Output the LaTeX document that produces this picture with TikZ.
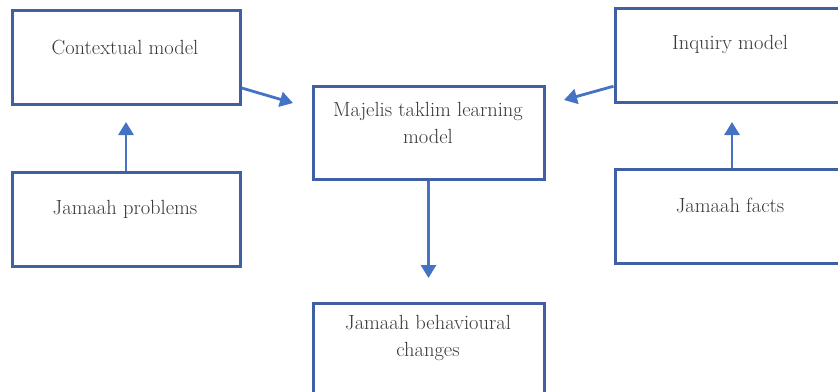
\documentclass[tikz,border=0pt]{standalone}
\usetikzlibrary{arrows.meta}
\definecolor{boxc}{HTML}{3F60A3}
\definecolor{arrc}{HTML}{4472C4}
\definecolor{txtc}{HTML}{383838}
\begin{document}
\begin{tikzpicture}[x=1pt,y=1pt,
  box/.style={draw=boxc, line width=3pt, fill=white, rectangle, inner sep=0pt},
  lbl/.style={text=txtc, font=\fontsize{20.5}{27}\selectfont, align=center, inner sep=0pt},
  arr/.style={draw=arrc, line width=2.8pt, -{Triangle[length=13pt,width=15pt]}}]
\useasboundingbox (0,0) rectangle (838,-391);
\clip (0,0) rectangle (838,-391);
% boxes
\node[box, minimum width=228pt, minimum height=94pt] (ctx) at (126,-57) {};
\node[box, minimum width=228pt, minimum height=94pt] (prob) at (126,-219) {};
\node[box, minimum width=231pt, minimum height=93pt] (mj) at (428.5,-132.5) {};
\node[box, minimum width=230pt, minimum height=94pt] (iq) at (730,-55) {};
\node[box, minimum width=230pt, minimum height=94pt] (fct) at (730,-216) {};
\node[box, minimum width=231pt, minimum height=94pt] (bc) at (428.5,-350) {};
% labels
\node[lbl] (tctx) at (125,-47) {Contextual model};
\node[lbl] (tprob) at (125,-209) {Jamaah problems};
\node[lbl] (tmj) at (428,-123) {Majelis taklim learning\\model};
\node[lbl] (tiq) at (730,-44) {Inquiry model};
\node[lbl] (tfct) at (730,-205) {Jamaah facts};
\node[lbl] (tbc) at (428,-338) {Jamaah behavioural\\changes};
% arrow ends
\coordinate (e1) at (293,-103);
\coordinate (e2) at (564,-100);
\coordinate (e3) at (126,-122);
\coordinate (e4) at (732,-122);
\coordinate (e5) at (428.5,-278);
% connectors
\draw[arr] (ctx.-15) -- (e1);
\draw[arr] (iq.195) -- (e2);
\draw[arr] (prob.north) -- (e3);
\draw[arr] (fct.north -| e4) -- (e4);
\draw[arr] (mj.south) -- (e5);
\end{tikzpicture}
\end{document}
